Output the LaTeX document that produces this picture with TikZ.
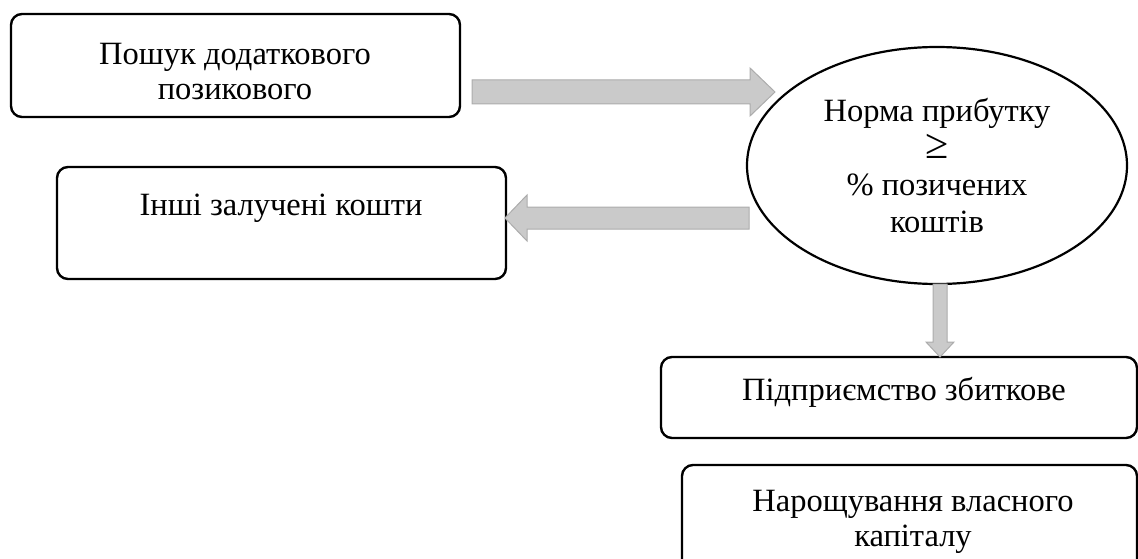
\documentclass[tikz,border=0pt]{standalone}
\usepackage{fontspec}
\usepackage{graphicx}
\setmainfont{Liberation Serif}
\usetikzlibrary{calc,shapes.geometric}
\definecolor{arrfill}{RGB}{202,202,202}
\definecolor{arrline}{RGB}{172,172,172}
\tikzset{
  box/.style={draw=black, line width=2.4pt, rounded corners=11pt, inner sep=0pt},
  ovalbox/.style={draw=black, line width=2.2pt, ellipse, inner sep=0pt, align=center,
    font=\fontsize{32.5}{37}\selectfont},
  txt/.style={font=\fontsize{32.5}{35}\selectfont, align=center, inner sep=0pt},
  blockarrow/.style={fill=arrfill, draw=arrline, line width=1pt, line join=miter},
}
% #1 start, #2 tip, #3 half shaft width, #4 half head width, #5 head length
\newcommand\blockarr[5]{%
  \coordinate (hb) at ($(#2)!#5!(#1)$);
  \filldraw[blockarrow]
    ($(#1)!#3!90:(#2)$) -- ($(hb)!#3!-90:(#1)$) -- ($(hb)!#4!-90:(#1)$) -- (#2)
    -- ($(hb)!#4!90:(#1)$) -- ($(hb)!#3!90:(#1)$) -- ($(#1)!#3!-90:(#2)$) -- cycle;
}
\begin{document}
\begin{tikzpicture}[x=1pt, y=-1pt]
\useasboundingbox (0,0) rectangle (1138,559);
\clip (0,0) rectangle (1138,559);

% boxes
\node[box, minimum width=449pt, minimum height=103pt] (b1) at (235.5,65.5) {};
\node[box, minimum width=449pt, minimum height=112pt] (b2) at (281.5,223) {};
\node[ovalbox, minimum width=380pt, minimum height=237pt] (ell) at (937,165.5)
  {Норма прибутку\\\scalebox{1.3}{≥}\\\% позичених\\коштів};
\node[box, minimum width=476pt, minimum height=81pt] (b3) at (899,397.5) {};
\node[box, minimum width=455pt, minimum height=135pt] (b4) at (909.5,532.5) {};

% texts
\node[txt] (t1) at (235,71.5) {Пошук додаткового\\позикового};
\node[txt, anchor=base] (t2) at (281,215) {Інші залучені кошти};
\node[txt, anchor=base] (t3) at (904,400) {Підприємство збиткове};
\node[txt] (t4) at (913,522) {Нарощування власного\\капіталу};

% arrow ends
\coordinate (a1s) at (472,92);
\coordinate (a1e) at (775,92);
\coordinate (a2s) at (749,218);
\coordinate (a2e) at (505,218);
\coordinate (a3s) at (940,284);
\coordinate (a3e) at (940,357);

\blockarr{a1s}{a1e}{12pt}{24pt}{25pt}
\blockarr{a2s}{a2e}{11pt}{23pt}{22pt}
\blockarr{a3s}{a3e}{7pt}{14pt}{15pt}
\end{tikzpicture}
\end{document}
